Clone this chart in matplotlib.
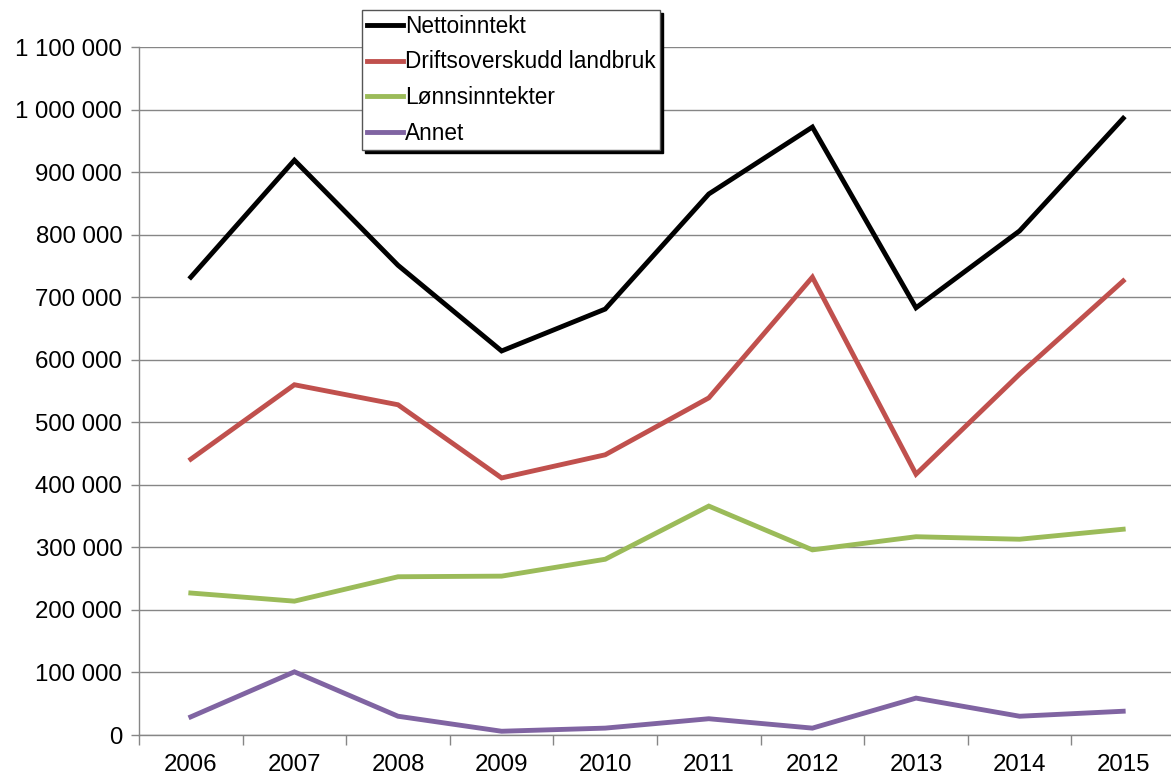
import matplotlib
matplotlib.use("Agg")
import matplotlib.pyplot as plt
from matplotlib.ticker import FuncFormatter, FixedLocator
import numpy as np

plt.rcParams['font.family'] = ['Liberation Sans', 'DejaVu Sans']

years = ["2006", "2007", "2008", "2009", "2010", "2011", "2012", "2013", "2014", "2015"]
nettoinntekt = [732000, 919000, 751000, 614000, 681000, 865000, 972000, 683000, 806000, 986000]
driftsoverskudd = [441000, 560000, 528000, 411000, 448000, 539000, 732000, 417000, 577000, 726000]
lonnsinntekter = [227000, 214000, 253000, 254000, 281000, 366000, 296000, 317000, 313000, 329000]
annet = [29000, 101000, 30000, 6000, 11000, 26000, 11000, 59000, 30000, 38000]

series = [
    ("Nettoinntekt", nettoinntekt, "#000000"),
    ("Driftsoverskudd landbruk", driftsoverskudd, "#C0504D"),
    ("Lønnsinntekter", lonnsinntekter, "#9BBB59"),
    ("Annet", annet, "#8064A2"),
]

fig = plt.figure(figsize=(11.71, 7.78), dpi=100)
ax = fig.add_axes([139/1171, 43/778, 1036/1171, 688/778])

x = np.arange(len(years))
for name, vals, col in series:
    ax.plot(x, vals, color=col, lw=3.5, label=name, solid_joinstyle='miter', zorder=3)

ax.set_xlim(-0.5, len(years) - 0.5)
ax.set_ylim(0, 1100000)
ax.set_yticks(np.arange(0, 1100001, 100000))
ax.yaxis.set_major_formatter(FuncFormatter(lambda v, p: f"{int(v):,}".replace(",", " ")))
ax.grid(axis='y', color='#868686', lw=1.0, zorder=0)

ax.set_xticks(x)
ax.set_xticklabels(years)
ax.xaxis.set_minor_locator(FixedLocator(np.arange(-0.5, len(years), 1.0)))
ax.tick_params(axis='x', which='major', length=0, pad=14, labelsize=17.3)
ax.tick_params(axis='x', which='minor', length=7, color='#868686', width=1.0)
ax.tick_params(axis='y', which='major', length=6, color='#868686', width=1.0, labelsize=17.3, pad=6)

for s in ['top', 'right']:
    ax.spines[s].set_visible(False)
for s in ['left', 'bottom']:
    ax.spines[s].set_color('#868686')
    ax.spines[s].set_linewidth(1.0)

leg = ax.legend(loc='upper left', bbox_to_anchor=(362/1171, 1 - 10/778),
                bbox_transform=fig.transFigure, borderaxespad=0,
                fontsize=16.3, frameon=True, fancybox=False, shadow={'color': 'black', 'alpha': 1},
                handlelength=1.6, handletextpad=0.1, labelspacing=0.57,
                borderpad=0.2)
leg.get_frame().set_edgecolor('#555555')
leg.get_frame().set_linewidth(1.0)
leg.set_zorder(5)

fig.savefig("out.png", dpi=100)
